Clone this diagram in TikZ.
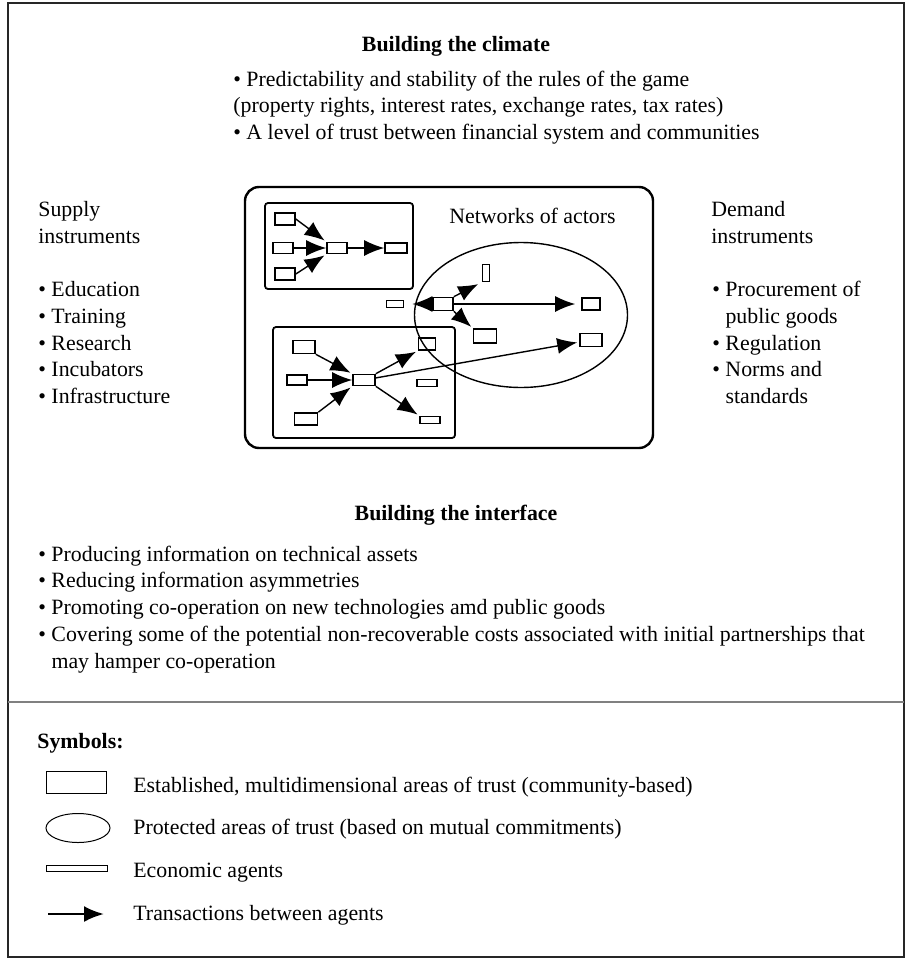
\documentclass[tikz,border=0pt]{standalone}
\usepackage{fontspec}
\setmainfont{Liberation Serif}
\usetikzlibrary{shapes, positioning, calc, arrows.meta}

\begin{document}
\begin{tikzpicture}[x=0.5pt, y=-0.5pt]
  \newcommand\linepitch{26.8}
  \newcommand\bodysize{\fontsize{10.92}{13.4}\selectfont}
  \newcommand\bulletindent{\hphantom{\textbullet\ }}

  \tikzset{txt/.style={anchor=base west, inner sep=0, font=\bodysize}}
  \tikzset{hdr/.style={anchor=base, inner sep=0, font=\bodysize\bfseries}}
  \tikzset{agent/.style={draw, line width=0.8pt, inner sep=0}}
  \tikzset{area/.style={draw, line width=0.9pt, rounded corners=1.5pt, inner sep=0}}
  \tikzset{ptr/.style={-{Latex[length=10pt, width=8pt]}, line width=0.7pt}}

  \useasboundingbox (0, 0) rectangle (906, 958);
  \draw[line width=0.6pt, black!85] (8, 3) rectangle (904, 957);
  \draw[line width=1.1pt, gray] (8, 702) -- (904, 702);

  % building the climate
  \node[hdr] (climate) at (456, 51) {Building the climate};
  \foreach \entry [count=\i from 0] in {{\textbullet\ Predictability and stability of the rules of the game},
      {(property rights, interest rates, exchange rates, tax rates)},
      {\textbullet\ A level of trust between financial system and communities}}{
    \node[txt] (climate-\i) at (233, 86 + \i*\linepitch) {\entry};
  }

  % supply and demand instruments
  \node[txt] (supply-t) at (38, 216.7) {Supply};
  \node[txt] (supply-t2) at (38, 216.7 + \linepitch) {instruments};
  \foreach \entry [count=\i from 0] in {Education, Training, Research, Incubators, Infrastructure}{
    \node[txt] (supply-\i) at (38, 296.5 + \i*\linepitch) {\textbullet\ \entry};
  }
  \node[txt] (demand-t) at (711, 216.7) {Demand};
  \node[txt] (demand-t2) at (711, 216.7 + \linepitch) {instruments};
  \foreach \entry [count=\i from 0] in {{\textbullet\ Procurement of}, {\bulletindent public goods},
      {\textbullet\ Regulation}, {\textbullet\ Norms and}, {\bulletindent standards}}{
    \node[txt] (demand-\i) at (712, 296.5 + \i*\linepitch) {\entry};
  }

  % networks of actors
  \node[draw, line width=1.2pt, rounded corners=7pt, minimum width=204pt, minimum height=130.5pt] (net) at (449, 317.5) {};
  \node[txt] (net-lbl) at (449, 223) {Networks of actors};
  \node[area, minimum width=74pt, minimum height=43pt] (tlbox) at (339, 246) {};
  \node[area, minimum width=91pt, minimum height=55.5pt] (blbox) at (364, 382.5) {};
  \node[ellipse, draw, line width=0.7pt, minimum width=106.5pt, minimum height=72.5pt, inner sep=0] (protect) at (521, 315) {};

  \foreach \name/\x/\y/\w/\h in {tl1/285/219/20/12, tl2/283/248/20/11, tl3/285/274/20/12, tl4/337/248/20/11, tl5/396/248/22/10,
      el1/486/273/7/17, el2/443/304/20/13, el3/395/304/17/7, el4/591/304/18/12, el5/485/336/23/14, el6/591/340/22/13,
      bl1/304/347/22/13, bl2/297/380/20/10, bl3/306/419/23/12, bl4/364/380/22/11, bl5/427/344/17/12, bl6/427/383/20/7, bl7/430/420/20/7}{
    \node[agent, minimum width=\w*0.5pt, minimum height=\h*0.5pt] (\name) at (\x, \y) {};
  }

  \foreach \from/\to/\gap in {tl1.east/tl4.north west/1, tl2/tl4/0, tl3.east/tl4.south west/1, tl4/tl5/0,
      el2/el3/4, el2.north east/el1.south west/2, el2/el4/3, el2.south east/el5.north west/1,
      bl1.south east/bl4.north west/1, bl2/bl4/0, bl3.north east/bl4.south west/1,
      bl4.north east/bl5.south west/1, bl4/el6/1, bl4.south east/bl7.north west/1}{
    \draw[ptr, shorten >=\gap pt] (\from) -- (\to);
  }

  % building the interface
  \node[hdr] (interface) at (456, 520) {Building the interface};
  \foreach \entry [count=\i from 0] in {{\textbullet\ Producing information on technical assets},
      {\textbullet\ Reducing information asymmetries},
      {\textbullet\ Promoting co-operation on new technologies amd public goods},
      {\textbullet\ Covering some of the potential non-recoverable costs associated with initial partnerships that},
      {\bulletindent may hamper co-operation}}{
    \node[txt] (interface-\i) at (38, 561 + \i*\linepitch) {\entry};
  }

  % symbols
  \node[hdr, anchor=base west] (symbols) at (37, 748) {Symbols:};
  \node[draw, line width=0.5pt, minimum width=30pt, minimum height=11pt, inner sep=0] (sym-area) at (76, 782) {};
  \node[ellipse, draw, line width=0.5pt, minimum width=32pt, minimum height=14.5pt, inner sep=0] (sym-protect) at (78, 828) {};
  \node[agent, line width=0.5pt, minimum width=30.5pt, minimum height=3pt] (sym-agent) at (76.5, 868) {};
  \coordinate (sym-t0) at (48, 914);
  \coordinate (sym-t1) at (104, 914);
  \draw[ptr, line width=1.3pt] (sym-t0) -- (sym-t1);
  \foreach \entry [count=\i from 0] in {{Established, multidimensional areas of trust (community-based)},
      {Protected areas of trust (based on mutual commitments)}, {Economic agents}, {Transactions between agents}}{
    \node[txt] (sym-lbl\i) at (133, 792 + \i*42.7) {\entry};
  }
\end{tikzpicture}
\end{document}
